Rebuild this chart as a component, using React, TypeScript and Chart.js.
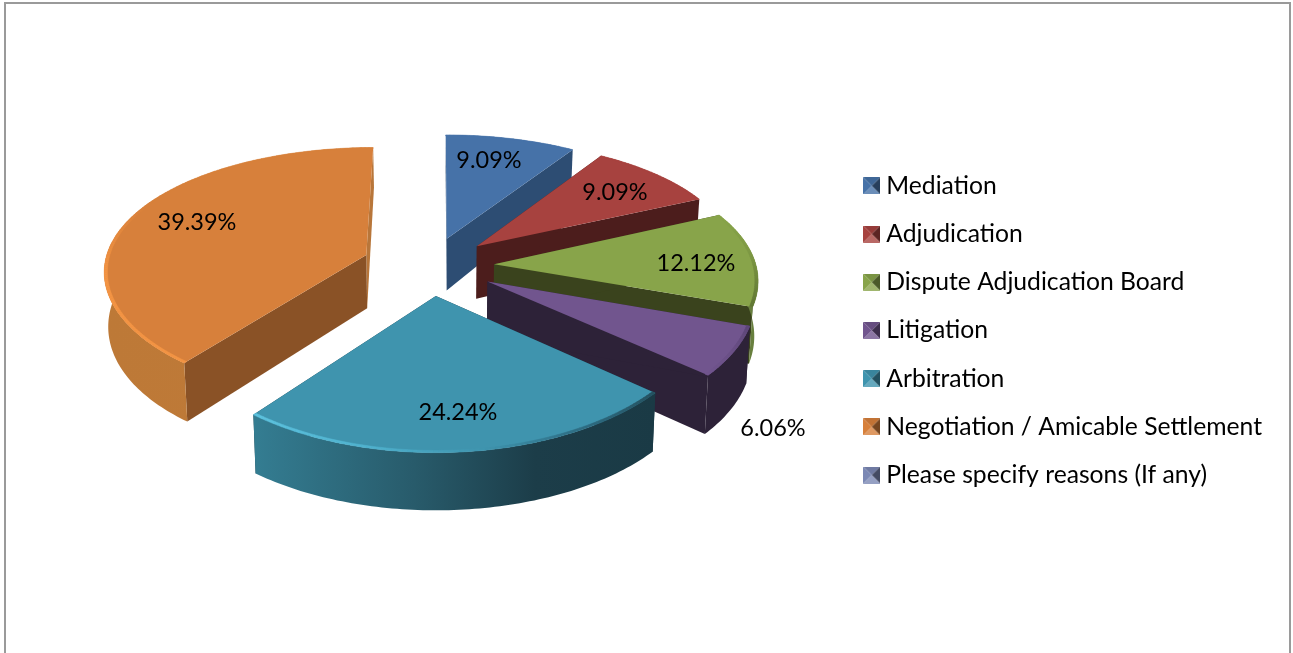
import React, { useEffect, useRef } from "react";
import { Chart, registerables } from "chart.js";

Chart.register(...registerables);

const categories = [
  "Mediation",
  "Adjudication",
  "Dispute Adjudication Board",
  "Litigation",
  "Arbitration",
  "Negotiation / Amicable Settlement",
  "Please specify reasons (If any)",
];
const shares = [9.09, 9.09, 12.12, 6.06, 24.24, 39.39, 0];
const explode = [0.23, 0.24, 0.245, 0.25, 0.235, 0.26, 0];
const topColors = ["#4672a8", "#a7423f", "#88a44a", "#71558e", "#3f94ae", "#d7803b", "#7b88b4"];
const endWalls = ["#2d4d73", "#4c1d1c", "#3a431d", "#2d2238", "#1b3a45", "#b8763a", "#555555"];
const startWalls = ["#2d4d73", "#4c1d1c", "#3a431d", "#2d2238", "#1b3a45", "#8a5226", "#555555"];
const rimWalls: [number, string][][] = [
  [[0, "#2d4d73"], [1, "#2d4d73"]],
  [[0, "#4c1d1c"], [1, "#4c1d1c"]],
  [[0, "#6a8240"], [1, "#5c7034"]],
  [[0, "#2d2238"], [1, "#2d2238"]],
  [[0, "#1a3a45"], [0.3, "#1c3d49"], [0.6, "#285b6b"], [1, "#347d92"]],
  [[0, "#c07a38"], [1, "#bd7937"]],
  [[0, "#555555"], [1, "#555555"]],
];
const bevels: [number, string][][] = [
  [[0, "#4672a8"], [1, "#4672a8"]],
  [[0, "#a7423f"], [1, "#a7423f"]],
  [[0, "#88a44a"], [0.4, "#7f9a45"], [1, "#5f7533"]],
  [[0, "#5d4678"], [0.5, "#6a5086"], [1, "#71558e"]],
  [[0, "#25505e"], [0.25, "#2f7087"], [0.45, "#3f94ae"], [0.7, "#4fb1cd"], [1, "#5ec3df"]],
  [[0, "#f39444"], [0.3, "#f39444"], [0.55, "#d7803b"], [1, "#d7803b"]],
  [[0, "#555555"], [1, "#555555"]],
];
const labelAnchors = [
  [489, 160],
  [615, 192],
  [696, 263],
  [773, 428],
  [458, 412],
  [197, 222],
];
const camera = { a: 262, b: -48, c: 430, gx: -0.11, g: -0.14, d: 88.2, f: 265.6, d2: 102.5, f2: 319.6, g2: -0.102, cx: 440, shrink: 0.988 };
const bevelWidth = 0.012;

type P = [number, number];

function projectTop(x: number, y: number): P {
  return [
    (camera.a * x + camera.b * y + camera.c) / (camera.gx * y + 1),
    (camera.d * y + camera.f) / (camera.g * y + 1),
  ];
}
function projectBottom(x: number, y: number): P {
  const t = projectTop(x, y);
  const den = camera.g2 * y + 1;
  return [camera.cx + (t[0] - camera.cx) * camera.shrink, (camera.d2 * y + camera.f2) / den];
}
function poly(ctx: CanvasRenderingContext2D, pts: P[]) {
  ctx.beginPath();
  pts.forEach((p, i) => (i ? ctx.lineTo(p[0], p[1]) : ctx.moveTo(p[0], p[1])));
  ctx.closePath();
}
function hex(c: string): number[] {
  return [1, 3, 5].map((i) => parseInt(c.slice(i, i + 2), 16));
}
function ramp(stops: [number, string][], t: number): string {
  for (let i = 1; i < stops.length; i++) {
    if (t <= stops[i][0]) {
      const [t0, c0] = stops[i - 1];
      const [t1, c1] = stops[i];
      const u = (t - t0) / (t1 - t0 || 1);
      const a = hex(c0);
      const b = hex(c1);
      return `rgb(${a.map((v, k) => Math.round(v + (b[k] - v) * u)).join(",")})`;
    }
  }
  return stops[stops.length - 1][1];
}
function shade(c: string, f: number): string {
  const v = hex(c).map((n) => Math.round(f < 1 ? n * f : n + (255 - n) * (f - 1)));
  return `rgb(${v.join(",")})`;
}
function marker(color: string): HTMLCanvasElement {
  const s = 17;
  const m = s / 2;
  const cv = document.createElement("canvas");
  cv.width = s;
  cv.height = s;
  const c = cv.getContext("2d")!;
  const tri = (pts: P[], fill: string) => {
    poly(c, pts);
    c.fillStyle = fill;
    c.fill();
  };
  tri([[0, 0], [s, 0], [m, m]], shade(color, 0.9));
  tri([[s, 0], [s, s], [m, m]], shade(color, 0.55));
  tri([[0, s], [s, s], [m, m]], shade(color, 1.2));
  tri([[0, 0], [0, s], [m, m]], color);
  return cv;
}

const pie3d = {
  id: "pie3d",
  beforeDatasetsDraw(chart: any) {
    const ctx: CanvasRenderingContext2D = chart.ctx;
    const arcs = chart.getDatasetMeta(0).data;
    const step = Math.PI / 180;
    arcs.forEach((arc: any, i: number) => {
      const { startAngle: s, endAngle: e } = arc.getProps(["startAngle", "endAngle"]);
      if (e - s <= 0) return;
      const mid = (s + e) / 2;
      const ox = explode[i] * Math.cos(mid);
      const oy = explode[i] * Math.sin(mid);
      const n = Math.max(2, Math.ceil((e - s) / step));
      const angles: number[] = [];
      for (let k = 0; k <= n; k++) angles.push(s + ((e - s) * k) / n);
      const at = (r: number, th: number): P => [ox + r * Math.cos(th), oy + r * Math.sin(th)];
      const top = (r: number, th: number) => projectTop(...at(r, th));
      const bot = (r: number, th: number) => projectBottom(...at(r, th));
      const tipT = projectTop(ox, oy);
      const tipB = projectBottom(ox, oy);

      ctx.save();
      // inner walls at both ends of the slice
      poly(ctx, [tipT, top(1, e), bot(1, e), tipB]);
      ctx.fillStyle = endWalls[i];
      ctx.fill();
      poly(ctx, [tipT, top(1, s), bot(1, s), tipB]);
      ctx.fillStyle = startWalls[i];
      ctx.fill();
      // outer curved wall
      const topRim = angles.map((t) => top(1, t));
      const xs = topRim.map((p) => p[0]);
      const minX = Math.min(...xs);
      const maxX = Math.max(...xs);
      const grad = ctx.createLinearGradient(maxX, 0, minX, 0);
      rimWalls[i].forEach(([t, c]) => grad.addColorStop(t, c));
      // only the part of the rim that faces the viewer
      const front = angles.filter((t) => Math.sin(t) > -0.12);
      if (front.length > 1) {
        poly(ctx, [...front.map((t) => top(1, t)), ...front.slice().reverse().map((t) => bot(1, t))]);
        ctx.fillStyle = grad;
        ctx.fill();
      }
      // top face
      poly(ctx, [tipT, ...topRim]);
      ctx.fillStyle = arc.options.backgroundColor;
      ctx.fill();
      // bevel along the outer rim
      for (let k = 0; k < n; k++) {
        const t0 = angles[k];
        const t1 = angles[Math.min(n, k + 1)];
        poly(ctx, [top(1, t0), top(1, t1), top(1 - bevelWidth, t1), top(1 - bevelWidth, t0)]);
        const c = ramp(bevels[i], k / n);
        ctx.fillStyle = c;
        ctx.strokeStyle = c;
        ctx.lineWidth = 0.5;
        ctx.fill();
        ctx.stroke();
      }
      ctx.restore();
    });
    // value labels
    ctx.save();
    ctx.font = "23.5px Lato";
    ctx.fillStyle = "#000";
    ctx.textAlign = "center";
    ctx.textBaseline = "middle";
    labelAnchors.forEach(([x, y], i) => ctx.fillText(shares[i].toFixed(2) + "%", x, y));
    ctx.restore();
    return false;
  },
};

export default function App() {
  const ref = useRef<HTMLCanvasElement>(null);
  useEffect(() => {
    const chart = new Chart(ref.current!, {
      type: "pie",
      data: {
        labels: categories,
        datasets: [{ data: shares, backgroundColor: topColors, borderWidth: 0 }],
      },
      options: {
        responsive: false,
        animation: false,
        layout: { padding: { top: 8, right: 21, left: 0, bottom: 0 } },
        plugins: {
          tooltip: { enabled: false },
          legend: {
            position: "right",
            align: "center",
            labels: {
              usePointStyle: true,
              pointStyleWidth: 4.3,
              boxHeight: 17,
              padding: 23.5,
              color: "#000",
              font: { family: "Lato", size: 24.7 },
              generateLabels: (c: any) =>
                c.data.labels.map((text: string, i: number) => ({
                  text,
                  index: i,
                  hidden: false,
                  fillStyle: topColors[i],
                  strokeStyle: topColors[i],
                  lineWidth: 0,
                  pointStyle: marker(topColors[i]),
                })),
            },
          },
        },
      },
      plugins: [pie3d],
    } as any);
    return () => chart.destroy();
  }, []);
  return (
    <div style={{ position: "fixed", inset: 0, overflow: "hidden", background: "#fff" }}>
      <canvas ref={ref} width={1293} height={653} style={{ position: "absolute", left: 0, top: 0 }} />
      <div
        style={{
          position: "absolute",
          left: 4,
          top: 2,
          width: 1283,
          height: 660,
          borderTop: "2px solid #9a9a9a",
          borderLeft: "2px solid #9a9a9a",
          borderRight: "2px solid #9a9a9a",
        }}
      />
    </div>
  );
}
